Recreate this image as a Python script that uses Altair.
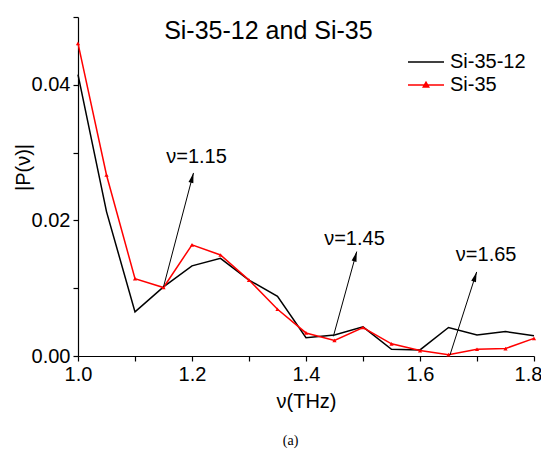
import math
import altair as alt
import pandas as pd

# ---------------- data ----------------
freq = [1.0, 1.05, 1.1, 1.15, 1.2, 1.25, 1.3, 1.35, 1.4, 1.45, 1.5, 1.55, 1.6, 1.65, 1.7, 1.75, 1.8]
si_35_12 = [0.0415, 0.0213, 0.0065, 0.0102, 0.0133, 0.0144, 0.0112, 0.0088, 0.0027, 0.0031,
            0.0043, 0.0010, 0.0009, 0.0042, 0.0031, 0.0036, 0.0030]
si_35 = [0.0461, 0.0267, 0.0114, 0.0101, 0.0164, 0.0149, 0.0112, 0.0069, 0.0034, 0.0023,
         0.0042, 0.0018, 0.0008, 0.0002, 0.0010, 0.0011, 0.0026]
series_names = ["Si-35-12", "Si-35"]
series_colors = ["#000000", "#ff0000"]

x_ticks = [1.0, 1.1, 1.2, 1.3, 1.4, 1.5, 1.6, 1.7, 1.8]
y_ticks = [0.0, 0.01, 0.02, 0.03, 0.04, 0.05]

ann_text = ["ν=1.15", "ν=1.45", "ν=1.65"]
ann_text_x = [1.208, 1.485, 1.716]
ann_text_y = [0.0293, 0.0172, 0.0149]
arrow_x0 = [1.15, 1.448, 1.6526]
arrow_y0 = [0.0102, 0.0029, 0.00015]
arrow_x1 = [1.2026, 1.489, 1.6994]
arrow_y1 = [0.0270, 0.0154, 0.0124]

title_text = ["Si-35-12 and Si-35"]
title_x = [1.334]
title_y = [0.0480]
caption_text = ["(a)"]
caption_x = [1.373]
caption_y = [-0.0126]

# ---------------- layout ----------------
W, H = 456, 339
X_DOM = [1.0, 1.8]
Y_DOM = [0.0, 0.05]
FONT = "Liberation Sans"

kx = W / (X_DOM[1] - X_DOM[0])
ky = H / (Y_DOM[1] - Y_DOM[0])

lines_df = pd.DataFrame({
    "freq": freq * 2,
    "P": si_35_12 + si_35,
    "series": [series_names[0]] * len(freq) + [series_names[1]] * len(freq),
})
red_df = pd.DataFrame({"freq": freq, "P": si_35})

angles = [math.degrees(math.atan2((x1 - x0) * kx, (y1 - y0) * ky)) % 360
          for x0, y0, x1, y1 in zip(arrow_x0, arrow_y0, arrow_x1, arrow_y1)]
arrows_df = pd.DataFrame({"x0": arrow_x0, "y0": arrow_y0, "x1": arrow_x1, "y1": arrow_y1,
                          "angle": angles})
ann_df = pd.DataFrame({"t": ann_text, "x": ann_text_x, "y": ann_text_y})
title_df = pd.DataFrame({"t": title_text, "x": title_x, "y": title_y})
cap_df = pd.DataFrame({"t": caption_text, "x": caption_x, "y": caption_y})

xscale = alt.Scale(domain=X_DOM, nice=False, zero=False)
yscale = alt.Scale(domain=Y_DOM, nice=False)

x_axis = alt.Axis(
    values=x_ticks, title="ν(THz)",
    labelExpr="abs(round(datum.value * 10)) % 2 == 0 ? format(datum.value, '.1f') : ''",
    labelFont=FONT, labelFontSize=20, labelColor="#000", labelPadding=3,
    labelOffset={"condition": {"test": "datum.value > 1.75", "value": -6}, "value": 0},
    titleFont=FONT, titleFontSize=20, titleFontWeight="normal", titleColor="#000",
    titlePadding=7, grid=False, domainColor="#000", domainWidth=1.2,
    tickColor="#000", tickSize=5, tickWidth=1.2, labelFlush=False,
)
y_axis = alt.Axis(
    values=y_ticks, title="|P(ν)|",
    labelExpr="datum.value < 0.045 && round(datum.value * 100) % 2 == 0 ? format(datum.value, '.2f') : ''",
    labelFont=FONT, labelFontSize=20, labelColor="#000", labelPadding=3,
    titleFont=FONT, titleFontSize=20, titleFontWeight="normal", titleColor="#000",
    titleAngle=270, titleX=-55, titleY=150, titleAlign="center", titleBaseline="middle",
    grid=False, domainColor="#000", domainWidth=1.2,
    tickColor="#000", tickSize=5, tickWidth=1.2, labelFlush=False,
)

LEG_LINE = "M-3,0L1,0"
LEG_TRI = "M-3,0L1,0M-1.3,0.22L-0.7,0.22L-1,-0.3Z"

legend = alt.Legend(
    orient="none", legendX=347, legendY=35, title=None,
    labelFont=FONT, labelFontSize=20, labelColor="#000",
    symbolSize=324, symbolStrokeWidth=1.5,
    symbolType={"expr": "datum.value === 'Si-35' ? '" + LEG_TRI + "' : '" + LEG_LINE + "'"},
    symbolFillColor={"expr": "datum.value === 'Si-35' ? '#ff0000' : 'transparent'"},
    labelOffset=5, rowPadding=3, padding=0,
)

lines = alt.Chart(lines_df).mark_line(strokeWidth=1.5).encode(
    x=alt.X("freq:Q", scale=xscale, axis=x_axis),
    y=alt.Y("P:Q", scale=yscale, axis=y_axis),
    color=alt.Color("series:N", scale=alt.Scale(domain=series_names, range=series_colors),
                    sort=series_names, legend=legend),
    order=alt.Order("freq:Q"),
)

markers = alt.Chart(red_df).mark_point(shape="triangle-up", filled=True, size=18,
                                        color="#ff0000", opacity=1).encode(
    x=alt.X("freq:Q", scale=xscale),
    y=alt.Y("P:Q", scale=yscale),
)

shafts = alt.Chart(arrows_df).mark_rule(color="#000", strokeWidth=1).encode(
    x=alt.X("x0:Q", scale=xscale), y=alt.Y("y0:Q", scale=yscale),
    x2="x1:Q", y2="y1:Q",
)
heads = alt.Chart(arrows_df).mark_point(shape="M0,0L0.25,1L-0.25,1Z", filled=True,
                                         size=400, color="#000", opacity=1).encode(
    x=alt.X("x1:Q", scale=xscale), y=alt.Y("y1:Q", scale=yscale),
    angle=alt.Angle("angle:Q", scale=None),
)

ann = alt.Chart(ann_df).mark_text(font=FONT, fontSize=20, color="#000",
                                  align="center", baseline="middle").encode(
    x=alt.X("x:Q", scale=xscale), y=alt.Y("y:Q", scale=yscale), text="t:N",
)
title = alt.Chart(title_df).mark_text(font=FONT, fontSize=25, color="#000",
                                      align="center", baseline="middle").encode(
    x=alt.X("x:Q", scale=xscale), y=alt.Y("y:Q", scale=yscale), text="t:N",
)
caption = alt.Chart(cap_df).mark_text(font="Liberation Serif", fontSize=14, color="#000",
                                      align="center", baseline="middle").encode(
    x=alt.X("x:Q", scale=xscale), y=alt.Y("y:Q", scale=yscale), text="t:N",
)

chart = alt.layer(lines, markers, shafts, heads, ann, title, caption).properties(
    width=W, height=H,
    autosize=alt.AutoSizeParams(type="none"),
    padding={"left": 70, "top": 9, "right": 7, "bottom": 93},
    background="#ffffff",
).configure_view(stroke=None)

chart.save("out.html", embed_options={"renderer": "svg", "actions": False})
